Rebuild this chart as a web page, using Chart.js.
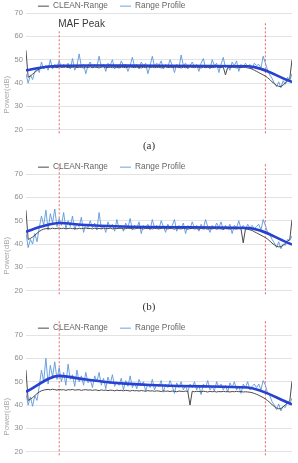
<!DOCTYPE html>
<html><head><meta charset="utf-8">
<script src="https://cdn.jsdelivr.net/npm/chart.js@4.4.0/dist/chart.umd.min.js"></script>
<style>
html,body{margin:0;padding:0;width:298px;height:463px;overflow:hidden;background:#fff;}
.panel{position:absolute;left:0;width:298px;}
.panel canvas{display:block;}
.cap{position:absolute;left:0;width:298px;text-align:center;font-family:"Liberation Serif","DejaVu Serif",serif;font-size:11px;color:#333;line-height:12px;z-index:5;}
</style></head><body>
<div class="panel" style="top:-10px"><canvas id="ca" width="298" height="194"></canvas></div>
<div class="panel" style="top:151px"><canvas id="cb" width="298" height="194"></canvas></div>
<div class="panel" style="top:312px"><canvas id="cc" width="298" height="194"></canvas></div>
<div class="cap" style="top:139px" id="capA"></div>
<div class="cap" style="top:300px" id="capB"></div>
<div class="cap" style="top:461px" id="capC"></div>
<script>
// ---------- data ----------
const legendNames = ['CLEAN-Range', 'Range Profile'];
const captionTexts = ['(a)', '(b)', '(c)'];
const yTicks = [20, 30, 40, 50, 60, 70];
const markerX = [15, 108];
const markerBottom = 18.5;
const peakText = 'MAF Peak';
const peakPos = [15, 65];

const cleanA = [54, 42.5, 43, 43.8, 44.6, 45.4, 46, 46.5, 46.7, 46.8,
  46.6, 46.9, 46.7, 46.8, 46.6, 46.9, 46.8, 46.7, 46.9, 46.6,
  46.8, 46.7, 46.9, 46.6, 46.8, 46.7, 46.5, 46.8, 46.7, 46.9,
  46.6, 46.8, 46.7, 46.5, 46.8, 46.9, 46.6, 46.7, 46.8, 46.6, 46.9, 46.7, 46.5, 46.8, 46.7, 46.6, 46.8, 46.9, 46.7, 46.6,
  46.8, 46.7, 46.5, 46.8, 46.6, 46.9, 46.7, 46.8, 46.6, 46.7, 46.8, 46.5, 46.7, 46.9, 46.6, 46.8, 46.7, 46.6, 46.8, 46.7,
  46.5, 46.8, 46.6, 46.7, 46.9, 46.7, 46.6, 46.8, 46.7, 46.5, 46.8, 46.6, 46.7, 46.8, 46.6, 46.7, 46.9, 46.6, 46.7, 46.8,
  43.5, 46.7, 46.6, 46.8, 46.7, 46.5, 46.7, 46.6, 46.8, 46.7,
  46.5, 46.3, 46, 45.5, 45, 44.5, 44, 43.5, 43, 42.3, 41.5, 40.5, 39.8, 39, 38.6, 38.5, 39.2, 40, 41, 42, 50];
const profileA = [44, 40, 43.5, 41.5, 45, 46.5, 44.5, 49, 46, 47.5, 45.5, 50, 46, 48, 47,
  49.5, 46.5, 48, 47, 48.5, 46, 50.5, 45.5, 47.5, 52.5, 47, 48, 44, 47.5, 49,
  46.5, 48, 47, 51.5, 47, 48, 45, 48.5, 47.5, 50, 46, 47.5, 46.5, 49.5, 47.5,
  48, 45, 47.5, 51, 47, 48, 46, 49, 47.5, 48.5, 44, 47.5, 51.5, 47, 48.5,
  47.5, 49.5, 46, 48, 47, 50, 47.5, 44.5, 48, 46.5, 52, 47.5, 48.5, 46, 47.5,
  49, 47, 48, 45, 48.5, 50.5, 46.5, 47.5, 46, 50, 47.5, 48.5, 44.5, 48, 51,
  46.5, 47.5, 45.5, 49, 47.5, 49.5, 45, 48, 47, 48.5, 47, 48, 46, 48.5, 47.5,
  48, 46.5, 51.5, 48.5, 45.5, 43.5, 42, 40, 38.5, 40.5, 38, 41, 39.5, 42.5, 41, 44];
const fitXA = [0, 8, 15, 30, 60, 100, 120];
const fitYA = [45.5, 46.8, 47.4, 47.5, 47.4, 47.2, 40.5];
const markerTopA = [62.5, 66];

const cleanB = [54.5, 42, 42.4, 43, 43.8, 44.6, 45.4, 46, 46.4, 46.6,
  46.7, 46.5, 46.8, 46.6, 46.7, 46.9, 46.6, 46.8, 46.5, 46.7, 46.8, 46.6, 46.7, 46.5, 46.8, 46.6, 46.7, 46.9, 46.6, 46.7,
  46.5, 46.8, 46.6, 46.7, 46.5, 46.8, 46.7, 46.6, 46.8, 46.5, 46.7, 46.6, 46.8, 46.7, 46.5, 46.6, 46.8, 46.7, 46.6, 46.5,
  46.7, 46.8, 46.6, 46.5, 46.7, 46.6, 46.8, 46.5, 46.7, 46.6, 46.5, 46.7, 46.8, 46.6, 46.5, 46.7, 46.6, 46.4, 46.7, 46.6,
  46.5, 46.7, 46.6, 46.4, 46.6, 46.7, 46.5, 46.6, 46.4, 46.7, 46.5, 46.6, 46.4, 46.6, 46.5, 46.7, 46.4, 46.6, 46.5, 46.4,
  46.6, 46.5, 46.4, 46.6, 46.5, 46.4, 46.6, 46.5, 40.5, 46.4,
  46.3, 46.1, 45.8, 45.3, 44.8, 44.3, 43.8, 43.3, 42.8, 42.1, 41.3, 40.4, 39.7, 39.1, 38.8, 38.9, 39.5, 40.3, 41.2, 42, 50.4];
const profileB = [45, 38.5, 42, 40, 44.5, 41, 47, 52, 48, 54.5, 46, 53, 49, 55, 47.5,
  51, 48, 53.5, 46.5, 50, 47.5, 52, 46, 49, 47.5, 51.5, 45, 48.5, 47, 50,
  47, 49, 46, 53.5, 46.5, 48, 45, 49.5, 47, 48.5, 45.5, 50.5, 46.5, 48, 45.5,
  49, 47, 51, 46, 48, 46.5, 49.5, 44.5, 48, 47, 48.5, 46, 50.5, 47, 48,
  46.5, 50, 47.5, 45, 48.5, 46.5, 48, 50.5, 45.5, 48, 47, 49, 44.5, 48, 46.5,
  49.5, 47, 48, 45.5, 48.5, 46.5, 50.5, 47.5, 45, 48, 46.5, 49, 47, 49.5, 46,
  48, 46.5, 48.5, 44.5, 48, 47, 50, 46.5, 48, 46, 48.5, 47, 48, 46.5, 47.5,
  48.5, 46, 50.5, 48, 45, 44, 42, 40.5, 38.5, 41, 38, 40, 39.5, 42, 41.5, 43.5];
const fitXB = [0, 7, 15, 25, 40, 70, 100, 120];
const fitYB = [45.3, 47.5, 49, 48.3, 47.6, 47.2, 46.9, 39.8];
const markerTopB = [74.7, 74.7];

const cleanC = [55, 42, 42.5, 43.2, 44, 44.9, 45.6, 46.1, 46.4, 46.6,
  46.7, 46.5, 46.8, 46.6, 46.4, 46.7, 46.5, 46.6, 46.3, 46.6, 46.5, 46.7, 46.4, 46.5, 46.6, 46.3, 46.5, 46.6, 46.4, 46.5,
  46.3, 46.5, 46.4, 46.2, 46.5, 46.3, 46.4, 46.2, 46.4, 46.3, 46.1, 46.4, 46.2, 46.3, 46.1, 46.3, 46.2, 46.0, 46.3, 46.1,
  46.2, 46.0, 46.2, 46.1, 45.9, 46.2, 46.0, 46.1, 45.9, 46.1, 46.0, 45.8, 46.1, 45.9, 46.0, 45.8, 46.0, 45.9, 45.7, 46.0,
  45.9, 45.8, 46.0, 45.8, 40, 45.9, 45.7, 45.9, 45.8, 45.7, 45.9, 45.8, 45.6, 45.9, 45.7, 45.8, 45.6, 45.8, 45.7, 45.9,
  45.7, 45.8, 45.6, 45.8, 45.7, 45.9, 45.7, 45.8, 45.6, 45.7,
  45.6, 45.5, 45.3, 45, 44.6, 44.2, 43.7, 43.2, 42.6, 41.9, 41.1, 40.2, 39.4, 38.8, 38.4, 38.5, 39.2, 40.1, 41, 41.8, 50.2];
const profileC = [45, 40, 43.5, 39.5, 44, 42, 48, 55, 50, 60, 49, 57, 52, 58.5, 51,
  56, 50, 54, 48.5, 57.5, 51, 53, 48, 55, 50, 52.5, 48.5, 54, 49.5, 51,
  47.5, 52.5, 50, 54, 48.5, 51.5, 47, 52, 49, 53, 48, 50, 48.5, 51.5, 46.5,
  50.5, 48, 52.5, 47.5, 49.5, 47, 51, 48.5, 50, 46, 49, 47.5, 51, 46.5, 49,
  48, 50.5, 45.5, 49, 47.5, 50.5, 48, 45, 49.5, 47.5, 50, 46.5, 48.5, 45.5, 49,
  47.5, 50, 46.5, 48.5, 44.5, 49, 47.5, 50.5, 46.5, 48, 46, 50, 47.5, 49, 46.5,
  48.5, 45.5, 49.5, 47.5, 50, 46.5, 48, 45, 49, 47.5, 50, 46.5, 48, 49, 47.5,
  49, 46.5, 50.5, 48.5, 45, 44, 41.5, 40, 38, 40.5, 37.5, 39.5, 39, 41.5, 40.5, 43];
const fitXC = [0, 15, 25, 35, 45, 56, 80, 100, 120];
const fitYC = [45.7, 52.5, 51.2, 50, 49.2, 48.6, 48, 47.5, 40.3];
const markerTopC = [76.4, 76.4];

// ---------- styling / helpers ----------
const FONT = '"Liberation Sans", Arial, sans-serif';
const LEGEND_PAD = 12;
const LEGEND_TRIM = 7.3;

const legendTrim = {
  id: 'legendTrim',
  afterInit(chart) {
    const lg = chart.legend;
    if (!lg || lg._trimPatched) return;
    const fit = lg.fit;
    lg.fit = function () { fit.call(this); this.height = Math.max(0, this.height - LEGEND_TRIM); };
    lg._trimPatched = true;
  }
};

const peakLabel = {
  id: 'peakLabel',
  afterDatasetsDraw(chart, args, opts) {
    if (!opts || !opts.text) return;
    const {ctx, scales: {x, y}} = chart;
    ctx.save();
    ctx.font = '10px ' + FONT;
    ctx.fillStyle = '#3a3a3a';
    ctx.textBaseline = 'middle';
    ctx.textAlign = 'left';
    ctx.fillText(opts.text, x.getPixelForValue(opts.x) - 1, y.getPixelForValue(opts.y));
    ctx.restore();
  }
};

const toXY = arr => arr.map((v, i) => ({x: i, y: v}));
const zipXY = (xs, ys) => xs.map((xv, i) => ({x: xv, y: ys[i]}));

function makePanel(id, clean, profile, fitX, fitY, markerTop, peak) {
  const markerSets = markerX.map((mx, i) => ({
    label: 'marker' + i,
    data: [{x: mx, y: markerBottom}, {x: mx, y: markerTop[i]}],
    borderColor: 'rgba(226,84,84,0.9)',
    borderWidth: 1,
    borderDash: [2, 2],
    pointRadius: 0,
    clip: false
  }));
  return new Chart(document.getElementById(id), {
    type: 'line',
    data: {
      datasets: [
        {label: 'trend', data: zipXY(fitX, fitY), borderColor: '#2741d2', borderWidth: 2.6,
         pointRadius: 0, cubicInterpolationMode: 'monotone'},
        {label: legendNames[0], data: toXY(clean), borderColor: '#4a4a4a', backgroundColor: '#4a4a4a',
         borderWidth: 1, pointRadius: 0},
        {label: legendNames[1], data: toXY(profile), borderColor: 'rgba(92,152,220,0.9)',
         backgroundColor: 'rgba(92,152,220,0.9)', borderWidth: 1, pointRadius: 0},
        ...markerSets
      ]
    },
    options: {
      responsive: false,
      animation: false,
      events: [],
      layout: {padding: {left: 1, right: 6, top: 0, bottom: 0}},
      scales: {
        x: {type: 'linear', min: 0, max: clean.length - 1, display: false},
        y: {
          min: 0, max: yTicks[yTicks.length - 1],
          border: {display: false},
          grid: {drawTicks: false, lineWidth: 1,
                 color: c => (c.tick && yTicks.includes(c.tick.value)) ? '#e3e3e3' : 'rgba(0,0,0,0)'},
          ticks: {stepSize: 10, padding: 3, color: '#8c8c8c', font: {family: FONT, size: 7.5},
                  callback: v => yTicks.includes(v) ? String(v) : ''},
          title: {display: true, text: 'Power(dB)', color: '#a8a8a8', font: {family: FONT, size: 8},
                  padding: {top: 1, bottom: 0}}
        }
      },
      plugins: {
        legend: {
          position: 'top', align: 'start', fullSize: false,
          labels: {usePointStyle: true, pointStyle: 'line', pointStyleWidth: 11, padding: LEGEND_PAD,
                   color: '#666', font: {family: FONT, size: 8.3},
                   filter: item => legendNames.includes(item.text)}
        },
        tooltip: {enabled: false},
        peakLabel: peak ? {text: peak, x: peakPos[0], y: peakPos[1]} : {text: ''}
      }
    },
    plugins: [legendTrim, peakLabel]
  });
}

makePanel('ca', cleanA, profileA, fitXA, fitYA, markerTopA, peakText);
makePanel('cb', cleanB, profileB, fitXB, fitYB, markerTopB, null);
makePanel('cc', cleanC, profileC, fitXC, fitYC, markerTopC, null);
['capA', 'capB', 'capC'].forEach((id, i) => { document.getElementById(id).textContent = captionTexts[i]; });
</script>
</body></html>
